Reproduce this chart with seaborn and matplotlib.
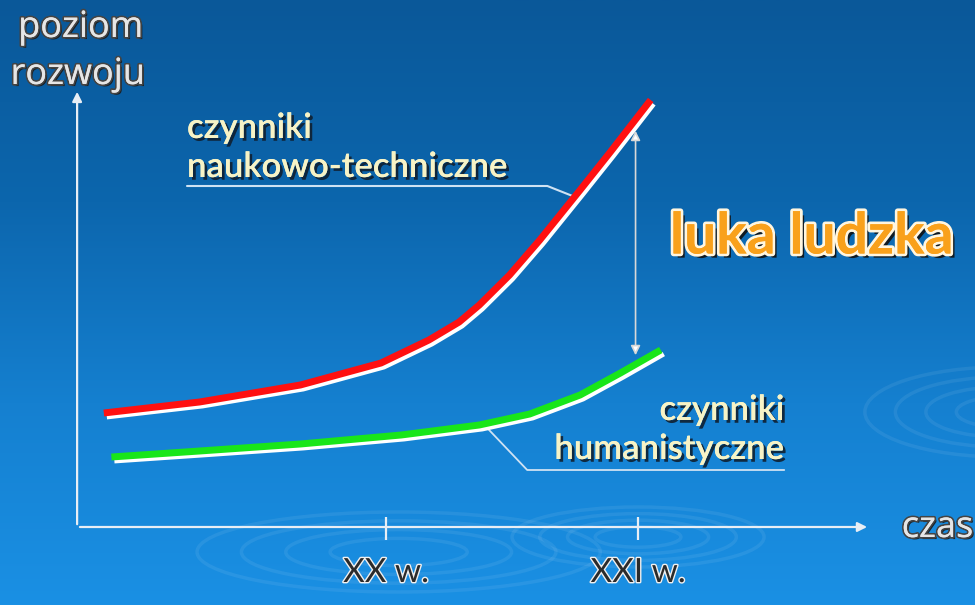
import numpy as np
import matplotlib
matplotlib.use("Agg")
import matplotlib.pyplot as plt
import matplotlib.patheffects as pe
from matplotlib.colors import LinearSegmentedColormap
from matplotlib.patches import Ellipse
import seaborn as sns

# curves: x = century, y = level of development (arbitrary units)
red_x = [18.88, 19.26, 19.66, 19.98, 20.17, 20.29, 20.37, 20.49, 20.61, 20.69, 20.77, 20.89, 21.05]
red_y = [1.14, 1.25, 1.42, 1.64, 1.87, 2.05, 2.22, 2.52, 2.87, 3.12, 3.37, 3.75, 4.27]
green_x = [18.91, 19.26, 19.66, 20.06, 20.37, 20.57, 20.77, 20.93, 21.09]
green_y = [0.70, 0.76, 0.83, 0.92, 1.02, 1.13, 1.32, 1.54, 1.77]

ticks = [20, 21]
tick_labels = ["XX w.", "XXI w."]

sns.set_style("white")
plt.rcParams['font.family'] = ['Lato', 'DejaVu Sans']

fig = plt.figure(figsize=(9.75, 6.05), dpi=100)
ax = fig.add_axes([0, 0, 1, 1])
ax.set_xlim(18.468, 22.337)
ax.set_ylim(-0.78, 5.27)
ax.axis("off")

# background gradient
cmap = LinearSegmentedColormap.from_list("bg", ["#0a5899", "#0c66ad", "#1580d0", "#1a90e4"])
grad = np.linspace(0, 1, 256).reshape(-1, 1)
ax.imshow(grad, extent=[18.468, 22.337, -0.78, 5.27], cmap=cmap, aspect="auto",
          origin="upper", zorder=0)

# faint ripples
for cx, cy, w, h in [(22.45, 1.15, 1.1, 0.9), (20.05, -0.25, 1.6, 0.8), (21.0, -0.1, 1.0, 0.6)]:
    for k in range(4):
        ax.add_patch(Ellipse((cx, cy), w * (1 - 0.22 * k), h * (1 - 0.22 * k), fill=False,
                             ec="white", alpha=0.07, lw=2.5, zorder=1))

# axes with arrows
ax_col = "#e8eef5"
ax.annotate("", xy=(21.92, 0), xytext=(18.774, 0),
            arrowprops=dict(arrowstyle="-|>", color=ax_col, lw=1.6, mutation_scale=14), zorder=3)
ax.annotate("", xy=(18.774, 4.38), xytext=(18.774, 0),
            arrowprops=dict(arrowstyle="-|>", color=ax_col, lw=1.6, mutation_scale=14), zorder=3)
ax.vlines(ticks, -0.13, 0.1, color=ax_col, lw=1.6, zorder=3)

tick_fx = [pe.withStroke(linewidth=2, foreground="#f0f0f0")]
for t, lab in zip(ticks, tick_labels):
    ax.text(t, -0.46, lab, ha="center", va="center", fontsize=24, color="#2b2b2b",
            path_effects=tick_fx, zorder=5)

grey_fx = [pe.withSimplePatchShadow(offset=(1.5, -1.5), shadow_rgbFace="#1a1a1a", alpha=0.9),
           pe.withStroke(linewidth=2.5, foreground="#444444"), pe.Normal()]
ax.text(22.33, -0.01, "czas", ha="right", va="center", fontsize=26, color="#e6e6e6",
        family="Open Sans", path_effects=grey_fx, zorder=5)
ax.text(18.54, 4.99, "poziom", ha="left", va="center", fontsize=26, color="#e6e6e6",
        family="Open Sans", path_effects=grey_fx, zorder=5)
ax.text(18.51, 4.52, "rozwoju", ha="left", va="center", fontsize=26, color="#e6e6e6",
        family="Open Sans", path_effects=grey_fx, zorder=5)

# white highlight lines under the curves
shift = matplotlib.transforms.offset_copy(ax.transData, fig=fig, x=3, y=-4, units="dots")
for xs, ys, col in [(red_x, red_y, "#ff1010"), (green_x, green_y, "#19e619")]:
    sns.lineplot(x=xs, y=ys, sort=False, ax=ax, color="white", lw=3.5,
                 transform=shift, zorder=4, solid_capstyle="butt")
    sns.lineplot(x=xs, y=ys, sort=False, ax=ax, color=col, lw=5,
                 zorder=4.5, solid_capstyle="butt")

# gap arrow
ax.annotate("", xy=(20.99, 3.99), xytext=(20.99, 1.69),
            arrowprops=dict(arrowstyle="<|-|>", color="#d8d8d8", lw=1.2,
                            mutation_scale=14, fc="white"), zorder=3)

# labels
lab_col = "#f7f3c6"
lab_fx = [pe.withSimplePatchShadow(offset=(2, -2), shadow_rgbFace="#102030", alpha=0.9),
          pe.Normal()]
ax.text(19.21, 3.99, "czynniki", ha="left", va="center", fontsize=25, color=lab_col,
        fontweight="semibold", path_effects=lab_fx, zorder=5)
ax.text(19.21, 3.60, "naukowo-techniczne", ha="left", va="center", fontsize=25, color=lab_col,
        fontweight="semibold", path_effects=lab_fx, zorder=5)
ax.text(21.58, 1.17, "czynniki", ha="right", va="center", fontsize=25, color=lab_col,
        fontweight="semibold", path_effects=lab_fx, zorder=5)
ax.text(21.58, 0.78, "humanistyczne", ha="right", va="center", fontsize=25, color=lab_col,
        fontweight="semibold", path_effects=lab_fx, zorder=5)

lead_col = "#cfe2f3"
ax.plot([19.21, 20.64, 20.75], [3.41, 3.41, 3.30], color=lead_col, lw=1.5, zorder=3)
ax.plot([21.58, 20.56, 20.39], [0.57, 0.57, 1.02], color=lead_col, lw=1.3, zorder=3)

gap_fx = [pe.withSimplePatchShadow(offset=(3, -3), shadow_rgbFace="#111111", alpha=0.9),
          pe.withStroke(linewidth=4, foreground="#fff6e0"), pe.Normal()]
ax.text(21.69, 2.90, "luka ludzka", ha="center", va="center", fontsize=41, color="#f9a11b",
        fontweight="bold", path_effects=gap_fx, zorder=5)

fig.savefig("out.png", dpi=100)
